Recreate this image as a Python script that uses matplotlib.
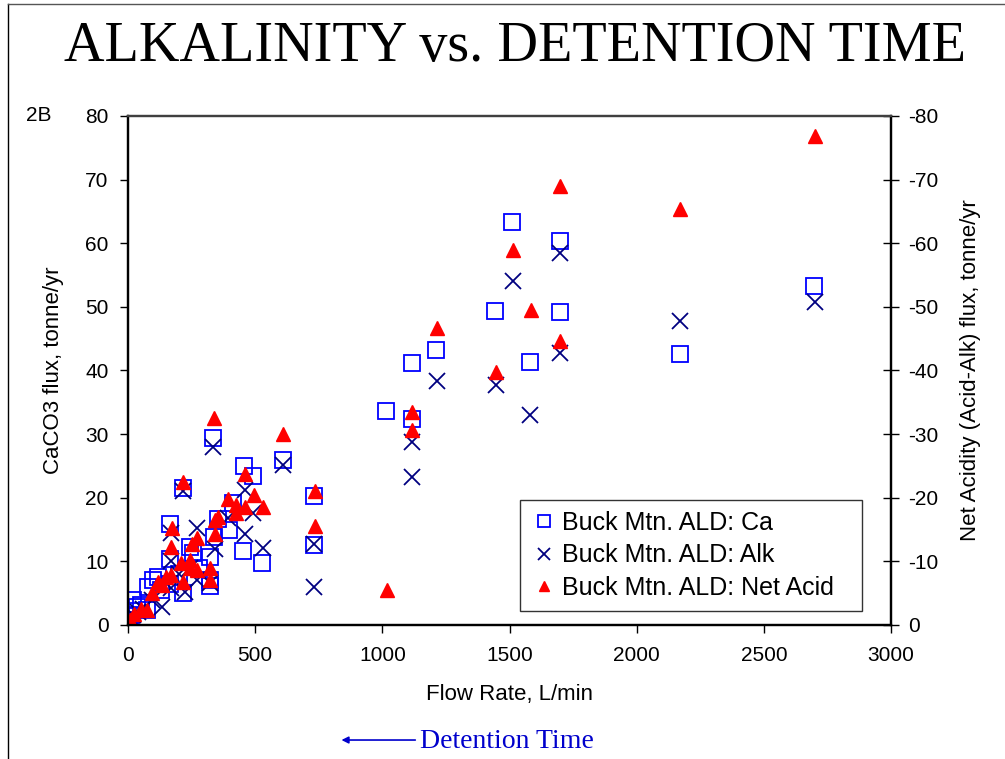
import matplotlib
matplotlib.use('Agg')
import matplotlib.pyplot as plt
from matplotlib.lines import Line2D
from matplotlib.patches import FancyArrowPatch

plt.rcParams['font.family'] = ['Liberation Sans', 'DejaVu Sans']
plt.rcParams['axes.unicode_minus'] = False

# Buck Mtn. ALD: Ca  (flow L/min, CaCO3 flux tonne/yr)
flow_ca = [0, 5, 10, 15, 21, 35, 50, 73, 80, 100, 117, 130, 165, 165, 165, 200,
           218, 218, 244, 257, 280, 322, 322, 322, 333, 338, 355, 397, 414, 453,
           456, 493, 528, 608, 731, 731, 1015, 1117, 1115, 1211, 1443, 1508,
           1580, 1697, 1697, 2169, 2699]
ca = [0.3, 0.8, 1.5, 2.2, 3.9, 2.8, 3.2, 2.4, 6.0, 7.1, 7.6, 5.5, 6.5, 10.3, 15.9,
      8.0, 21.6, 5.0, 12.3, 11.3, 9.0, 10.7, 7.1, 6.2, 29.4, 13.9, 16.6, 14.9,
      19.1, 11.7, 25.0, 23.4, 9.8, 25.9, 20.3, 12.6, 33.6, 32.4, 41.1, 43.2,
      49.4, 63.4, 41.4, 60.3, 49.2, 42.6, 53.2]

# Buck Mtn. ALD: Alk
flow_alk = [0, 5, 10, 20, 40, 60, 93, 132, 169, 169, 169, 200, 218, 224, 244, 270,
            270, 322, 336, 342, 395, 458, 460, 493, 532, 611, 731, 731, 1117, 1117,
            1214, 1446, 1512, 1582, 1700, 1700, 2172, 2703]
alk = [0.2, 0.6, 1.0, 1.5, 2.0, 2.5, 3.9, 2.9, 14.4, 5.8, 10.0, 8.0, 21.0, 5.2, 9.0,
       15.2, 7.0, 6.6, 28.0, 12.0, 16.8, 21.2, 14.3, 17.6, 12.1, 25.2, 12.8, 5.9,
       28.8, 23.3, 38.4, 37.7, 54.0, 33.0, 58.4, 42.7, 47.7, 50.8]

# Buck Mtn. ALD: Net Acid (right axis, negative = net alkaline)
flow_na = [0, 8, 25, 50, 73, 93, 117, 132, 150, 169, 169, 172, 208, 218, 218, 244,
           244, 253, 270, 270, 322, 322, 337, 342, 342, 355, 395, 423, 423, 460,
           460, 497, 532, 611, 735, 735, 1017, 1118, 1118, 1215, 1446, 1512, 1585,
           1700, 1700, 2172, 2703]
net_acid = [-0.3, -0.8, -1.8, -2.5, -2.3, -5.0, -6.8, -6.3, -7.5, -7.9, -12.3, -15.2,
            -9.7, -6.8, -22.5, -10.2, -9.0, -12.8, -8.6, -13.6, -8.9, -7.1, -32.5,
            -16.5, -14.3, -17.0, -19.8, -18.9, -17.6, -23.7, -18.6, -20.4, -18.6,
            -30.0, -21.0, -15.5, -5.5, -33.4, -30.7, -46.7, -39.7, -58.9, -49.5,
            -69.0, -44.7, -65.4, -76.9]

fig = plt.figure(figsize=(10.05, 7.59), dpi=100)
ax = fig.add_axes([0.1274, 0.1766, 0.7592, 0.6706])
ax2 = ax.twinx()

h1, = ax.plot(flow_ca, ca, 's', ms=12, mfc='none', mec='#0000ff', mew=1.3,
              label='Buck Mtn. ALD: Ca')
h2, = ax.plot(flow_alk, alk, 'x', ms=11.5, mec='#000080', mew=1.3,
              label='Buck Mtn. ALD: Alk')
h3, = ax2.plot(flow_na, net_acid, '^', ms=9.5, mfc='#ff0000', mec='#ff0000',
               label='Buck Mtn. ALD: Net Acid')

ax.set_xlim(0, 3000)
ax.set_ylim(0, 80)
ax2.set_ylim(0, -80)
ax.set_xticks(range(0, 3001, 500))
ax.set_yticks(range(0, 81, 10))
ax2.set_yticks(range(0, -81, -10))

ax.tick_params(axis='both', labelsize=15, direction='out', length=6, width=1)
ax.tick_params(axis='y', pad=8)
ax.tick_params(axis='x', pad=9)
ax2.tick_params(axis='y', labelsize=15, direction='inout', length=12, width=1, pad=6)

for a in (ax, ax2):
    for s in a.spines.values():
        s.set_linewidth(1.6)
ax.spines['top'].set_color('#404040')
ax2.spines['top'].set_color('#404040')

ax.set_ylabel('CaCO3 flux, tonne/yr', fontsize=16, labelpad=15)
ax2.set_ylabel('Net Acidity (Acid-Alk) flux, tonne/yr', fontsize=16, labelpad=16)
ax.set_xlabel('Flow Rate, L/min', fontsize=16, labelpad=14)

leg = ax.legend(handles=[h1, h2, h3], loc='lower left', mode='expand',
                bbox_to_anchor=(0.5138, 0.0275, 0.448, 0.2), fontsize=18,
                frameon=True, fancybox=False, edgecolor='black', borderpad=0.45,
                handlelength=1.0, handletextpad=0.22, markerscale=0.72,
                labelspacing=0.33, borderaxespad=0)
leg.get_frame().set_linewidth(1.0)

fig.text(0.512, 0.938, 'ALKALINITY vs. DETENTION TIME', ha='center', va='center',
         fontsize=40.5, family='Liberation Serif')
fig.text(0.026, 0.848, '2B', ha='left', va='center', fontsize=15)
fig.text(0.418, 0.023, 'Detention Time', ha='left', va='center', fontsize=20,
         family='Liberation Serif', color='#0000cc')
fig.add_artist(FancyArrowPatch(
    (0.416, 0.025), (0.337, 0.025), transform=fig.transFigure,
    arrowstyle='-|>', mutation_scale=10, color='#0000cc', lw=1.2))

# page frame
fig.add_artist(Line2D([0.008, 0.008], [0, 0.995], transform=fig.transFigure,
                      color='black', lw=1))
fig.add_artist(Line2D([0.008, 1], [0.995, 0.995], transform=fig.transFigure,
                      color='#555555', lw=1))

fig.savefig('out.png', dpi=100)
